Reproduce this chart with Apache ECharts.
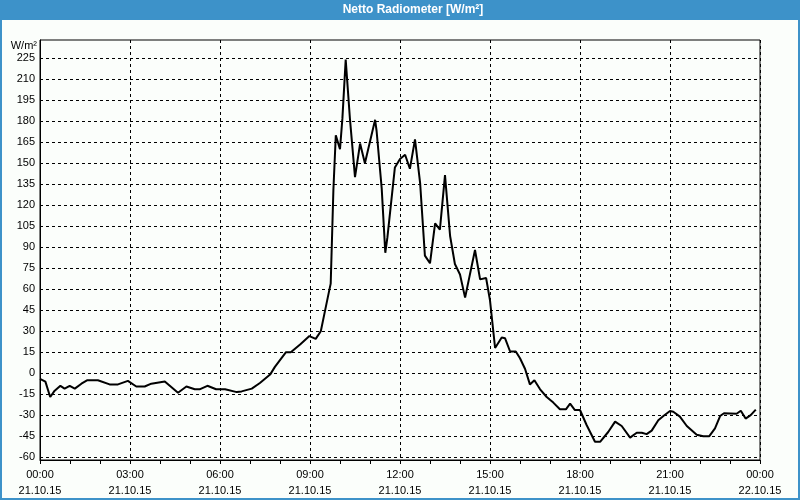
<!DOCTYPE html>
<html>
<head>
<meta charset="utf-8">
<script src="https://cdn.jsdelivr.net/npm/echarts@6/dist/echarts.min.js"></script>
<style>
html,body{margin:0;padding:0;background:#fbfefb;}
#chart{width:800px;height:500px;}
</style>
</head>
<body>
<div id="chart"></div>
<script>
// Time of day in hours since 21.10.15 00:00
const hours = [0.00,0.18,0.34,0.49,0.68,0.82,0.99,1.16,1.38,1.58,1.93,2.32,2.60,2.93,3.21,3.49,3.71,4.16,4.60,4.88,5.16,5.32,5.58,5.87,6.17,6.56,6.72,7.06,7.33,7.67,7.83,8.20,8.36,8.67,8.98,9.19,9.36,9.50,9.64,9.69,9.78,9.86,10.00,10.08,10.19,10.33,10.50,10.67,10.83,11.17,11.22,11.39,11.51,11.58,11.83,12.00,12.17,12.33,12.50,12.67,12.83,13.00,13.17,13.33,13.50,13.67,13.83,14.00,14.17,14.50,14.67,14.87,15.00,15.17,15.39,15.50,15.67,15.86,16.00,16.17,16.33,16.48,16.67,16.89,17.11,17.33,17.53,17.67,17.83,18.00,18.22,18.50,18.67,18.94,19.17,19.39,19.67,19.89,20.06,20.22,20.39,20.61,20.78,21.00,21.11,21.33,21.56,21.89,22.11,22.31,22.50,22.67,22.80,23.22,23.36,23.52,23.69,23.86];
// Net radiation in W/m²
const radiation = [-4,-6,-17,-12.5,-9,-11,-9,-11,-7.5,-5,-5,-8,-8,-5.5,-9.5,-9.5,-7.5,-6,-14,-9.5,-11.5,-11.5,-9,-11.5,-11.5,-13.5,-13,-11,-7,-1,4.5,15,15,20.5,26.5,24.5,30,44.5,59,64,131,170,160,182,224,182,140,164,150,181,173,132,86,97,147,153,156,146,167,136,84,78.5,107,102.5,141.5,98,78,70.5,54,88,67,68,52,18,25.5,25,15.5,15.5,10.7,3,-8,-5,-11.5,-17,-21,-25.8,-25.8,-21.8,-26.3,-26.3,-37,-49,-49,-42,-34.6,-37.7,-46,-42.5,-42.5,-43.5,-41,-33.6,-30.6,-27,-27.5,-31,-37.7,-44,-45,-45,-39.4,-30.6,-28.6,-29,-26.8,-32.4,-30,-26];
// Tick labels
const yTicks = [-60,-45,-30,-15,0,15,30,45,60,75,90,105,120,135,150,165,180,195,210,225];
const xTimeLabels = {0:'00:00',3:'03:00',6:'06:00',9:'09:00',12:'12:00',15:'15:00',18:'18:00',21:'21:00',24:'00:00'};
const xDateLabels = {0:'21.10.15',3:'21.10.15',6:'21.10.15',9:'21.10.15',12:'21.10.15',15:'21.10.15',18:'21.10.15',21:'21.10.15',24:'22.10.15'};
const titleText = 'Netto Radiometer [W/m²]';
const unitText = 'W/m²';

const FONT = 'Liberation Sans';
const chart = echarts.init(document.getElementById('chart'), null, {renderer:'canvas'});
chart.setOption({
  backgroundColor:'#fbfefb',
  animation:false,
  textStyle:{fontFamily:FONT},
  graphic:[
    {type:'rect', shape:{x:0,y:0,width:800,height:20}, style:{fill:'#3d92c9'}, z:10},
    {type:'rect', shape:{x:1,y:1,width:798,height:498}, style:{fill:'none',stroke:'#3d92c9',lineWidth:2}, z:10},
    {type:'text', x:413, y:10, style:{text:titleText, fill:'#ffffff', font:'bold 12px "Liberation Sans"', align:'center', verticalAlign:'middle'}, z:11},
    {type:'text', x:37, y:46, style:{text:unitText, fill:'#000000', font:'11px "Liberation Sans"', align:'right', verticalAlign:'middle'}, z:11}
  ],
  grid:{left:40,right:40,top:40,bottom:40,show:true,borderColor:'#000',borderWidth:1,backgroundColor:'transparent'},
  xAxis:{
    type:'value', min:0, max:24, interval:3,
    axisLine:{show:true,onZero:false,lineStyle:{color:'#000',width:1}},
    axisTick:{show:true,length:4,lineStyle:{color:'#000'}},
    minorTick:{show:true,splitNumber:3,length:4,lineStyle:{color:'#000'}},
    splitLine:{show:true,lineStyle:{color:'#000',type:[3,3],width:1}},
    axisLabel:{color:'#000',fontSize:11,fontFamily:FONT,margin:7,lineHeight:16,
      formatter:function(v){return (xTimeLabels[v]||'')+'\n'+(xDateLabels[v]||'');}}
  },
  yAxis:{
    type:'value', min:-62, max:238,
    axisLine:{show:true,onZero:false,lineStyle:{color:'#000',width:1}},
    axisTick:{show:false,customValues:yTicks},
    splitLine:{show:true,lineStyle:{color:'#000',type:[3,3],width:1}},
    axisLabel:{color:'#000',fontSize:11,fontFamily:FONT,margin:5,customValues:yTicks}
  },
  series:[{
    type:'line',
    data:hours.map((h,i)=>[h,radiation[i]]),
    showSymbol:false,
    symbol:'none',
    lineStyle:{color:'#000',width:2},
    z:5
  }]
});
</script>
</body>
</html>
